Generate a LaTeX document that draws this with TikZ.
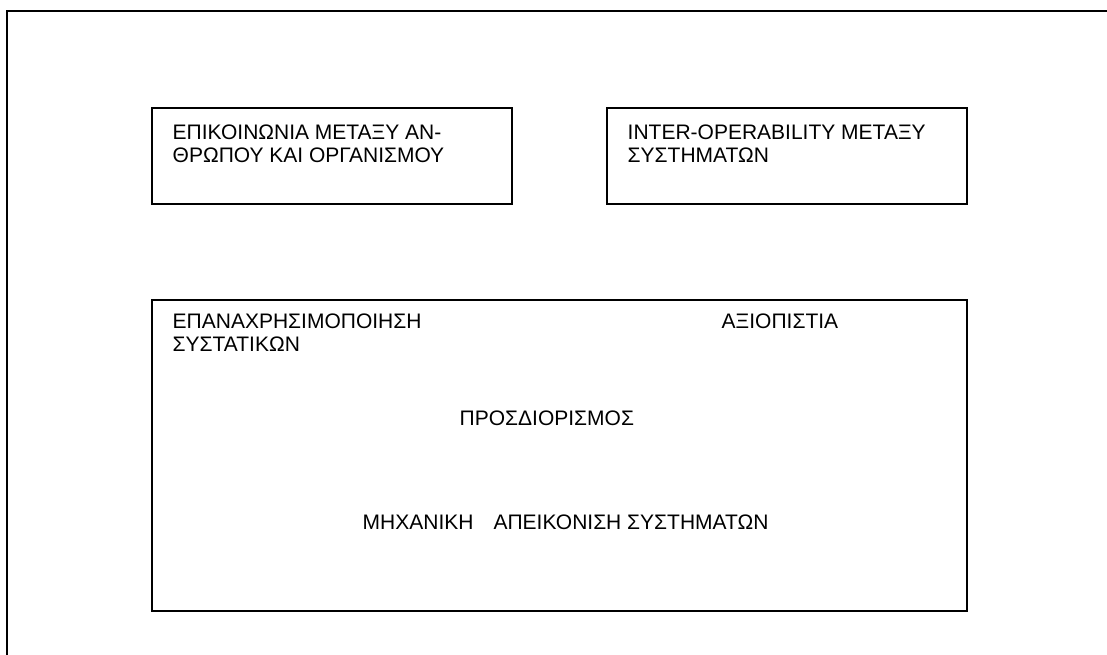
\documentclass[tikz,border=0pt]{standalone}
\usepackage{fontspec}
\setmainfont{Liberation Sans}
\begin{document}
\begin{tikzpicture}[x=1pt,y=-1pt,
  frame/.style={draw=black,line width=1.6pt},
  box/.style={draw=black,line width=1.4pt},
  label/.style={anchor=base west,inner sep=0pt,font=\fontsize{21}{23.5}\selectfont}]
  \useasboundingbox (0,0) rectangle (1107,655);
  \clip (0,0) rectangle (1107,655);
  % outer sheet frame, running off the right and bottom edges
  \draw[frame] (7,670) -- (7,11) -- (1120,11);
  % upper two boxes
  \draw[box] (152,108) rectangle (512,204);
  \draw[box] (607,108) rectangle (967,204);
  % large lower box
  \draw[box] (152,300) rectangle (967,611);
  % texts
  \node[label] (t1a) at (172.5,139.3) {ΕΠΙΚΟΙΝΩΝΙΑ ΜΕΤΑΞΥ ΑΝ-};
  \node[label] (t1b) at (172.5,162.7) {ΘΡΩΠΟΥ ΚΑΙ ΟΡΓΑΝΙΣΜΟΥ};
  \node[label] (t2a) at (627.5,139.3) {INTER-OPERABILITY ΜΕΤΑΞΥ};
  \node[label] (t2b) at (627.5,162.7) {ΣΥΣΤΗΜΑΤΩΝ};
  \node[label] (t3a) at (172.5,328.3) {ΕΠΑΝΑΧΡΗΣΙΜΟΠΟΙΗΣΗ};
  \node[label] (t3b) at (172.5,351.7) {ΣΥΣΤΑΤΙΚΩΝ};
  \node[label] (t4) at (721.5,328.3) {ΑΞΙΟΠΙΣΤΙΑ};
  \node[label] (t5) at (459.5,425.7) {ΠΡΟΣΔΙΟΡΙΣΜΟΣ};
  \node[label] (t6) at (362.5,529.3) {ΜΗΧΑΝΙΚΗ\hspace{20pt}ΑΠΕΙΚΟΝΙΣΗ ΣΥΣΤΗΜΑΤΩΝ};
\end{tikzpicture}
\end{document}
